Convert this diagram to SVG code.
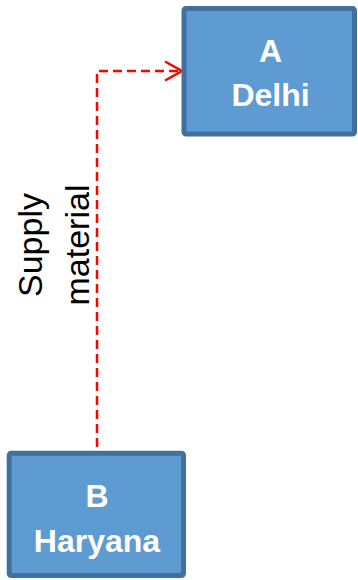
<svg xmlns="http://www.w3.org/2000/svg" width="358" height="580" viewBox="0 0 358 580">
  <style>
    .box { fill: #5f9bd3; stroke: #41719c; stroke-width: 5; }
    .boxlabel { font-family: "Liberation Sans", Arial, sans-serif; font-weight: bold; font-size: 32px; fill: #ffffff; text-anchor: middle; }
    .flow { fill: none; stroke: #ff0000; stroke-width: 2.5; stroke-dasharray: 9 5; }
    .flowlabel { font-family: "Liberation Sans", Arial, sans-serif; font-size: 34px; fill: #000000; text-anchor: middle; }
  </style>
  <defs>
    <marker id="openArrow" markerUnits="userSpaceOnUse" markerWidth="24" markerHeight="24" viewBox="-20 -12 24 24" refX="0" refY="0" orient="auto" overflow="visible">
      <path d="M-17,-9.5 L0,0 L-17,9.5" fill="none" stroke="#ff0000" stroke-width="2.5"/>
    </marker>
  </defs>

  <g id="connectors">
    <path class="flow" d="M97,447 V71 H182" marker-end="url(#openArrow)"/>
    <text class="flowlabel" transform="translate(42,245) rotate(-90)">Supply</text>
    <text class="flowlabel" transform="translate(89,245) rotate(-90)">material</text>
  </g>

  <g id="node-a">
    <rect class="box" x="184" y="8.5" width="170.5" height="125.5" rx="2"/>
    <text class="boxlabel" x="270.5" y="62">A</text>
    <text class="boxlabel" x="270.5" y="106">Delhi</text>
  </g>

  <g id="node-b">
    <rect class="box" x="9.2" y="453.2" width="174.3" height="122.3" rx="2"/>
    <text class="boxlabel" x="97" y="507">B</text>
    <text class="boxlabel" x="97" y="552">Haryana</text>
  </g>
</svg>
